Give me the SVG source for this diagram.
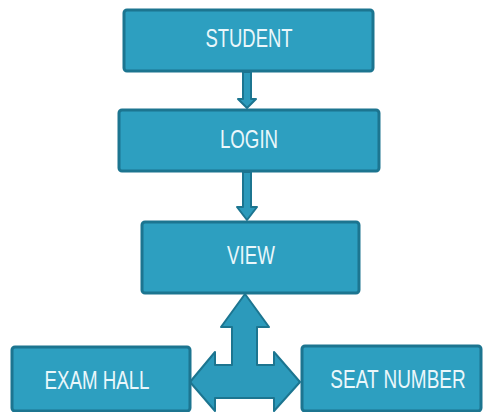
<svg xmlns="http://www.w3.org/2000/svg" width="483" height="412" viewBox="0 0 483 412">
<style>
.box{fill:#2d9fc0;stroke:#1c7590;stroke-width:3}
.lbl{font-family:"Liberation Sans",Arial,sans-serif;font-size:26px;fill:#eaf7fb;text-anchor:middle}
.arw{fill:#2c9abb;stroke:#1c7590;stroke-width:2;stroke-linejoin:round}
</style>
<rect width="483" height="412" fill="#ffffff"/>
<g id="connectors">
<path class="arw" d="M243,72 L251,72 L251,99 L256,99 L247,108 L238,99 L243,99 Z"/>
<path class="arw" d="M243,172 L251,172 L251,207 L257,207 L247,220 L237,207 L243,207 Z"/>
<path class="arw" d="M245,294 L269,327 L257,327 L257,365 L274,365 L274,352 L300,382 L274,411 L274,398 L215,398 L215,411 L190,382 L215,352 L215,365 L232,365 L232,327 L221,327 Z"/>
</g>
<g id="student">
<rect class="box" x="124" y="10" width="249" height="61" rx="3"/>
<text class="lbl" transform="translate(249,47) scale(0.71,1)">STUDENT</text>
</g>
<g id="login">
<rect class="box" x="119" y="110" width="260" height="61" rx="3"/>
<text class="lbl" transform="translate(249,148) scale(0.72,1)">LOGIN</text>
</g>
<g id="view">
<rect class="box" x="142" y="222" width="217" height="71" rx="3"/>
<text class="lbl" transform="translate(251,264) scale(0.72,1)">VIEW</text>
</g>
<g id="examhall">
<rect class="box" x="12" y="347" width="178" height="64" rx="3"/>
<text class="lbl" transform="translate(97,389) scale(0.72,1)">EXAM HALL</text>
</g>
<g id="seatnumber">
<rect class="box" x="302" y="346" width="179" height="65" rx="3"/>
<text class="lbl" transform="translate(398,388) scale(0.73,1)">SEAT NUMBER</text>
</g>
</svg>
